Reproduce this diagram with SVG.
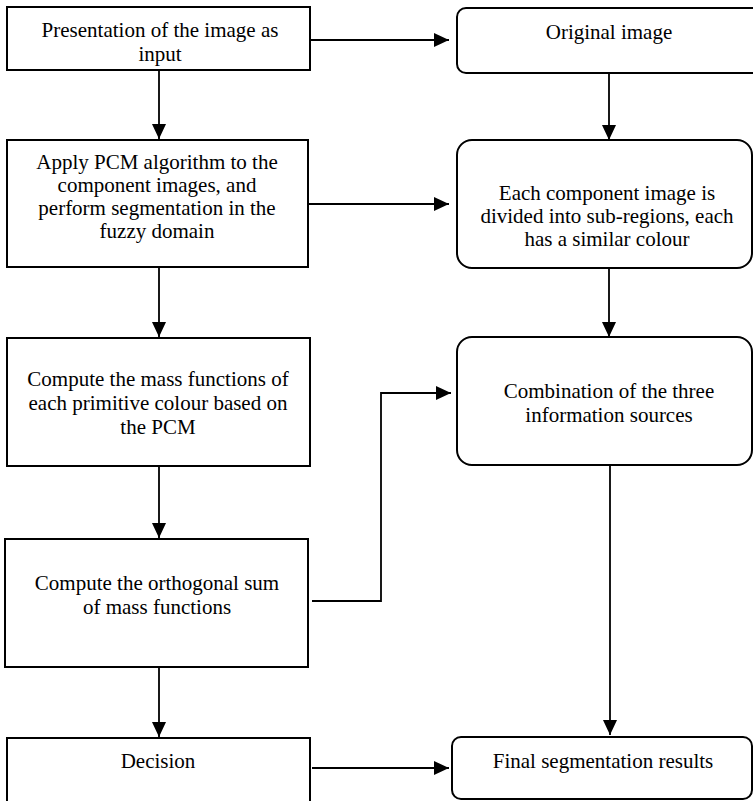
<svg xmlns="http://www.w3.org/2000/svg" width="753" height="801" viewBox="0 0 753 801">
<style>
.box{fill:#fff;stroke:#000;stroke-width:2}
.conn{fill:none;stroke:#000;stroke-width:1.8}
</style>
<defs>
<marker id="ah" markerUnits="userSpaceOnUse" markerWidth="16" markerHeight="14" refX="15" refY="7" orient="auto">
<path d="M0,0 L15,7 L0,14 z" fill="#000"/>
</marker>
</defs>
<rect width="753" height="801" fill="#fff"/>
<g id="connectors">
<path class="conn" d="M310,40 H449" marker-end="url(#ah)"/>
<path class="conn" d="M159,70 V139" marker-end="url(#ah)"/>
<path class="conn" d="M609,73 V140" marker-end="url(#ah)"/>
<path class="conn" d="M308,204 H449" marker-end="url(#ah)"/>
<path class="conn" d="M159,267 V337" marker-end="url(#ah)"/>
<path class="conn" d="M609,268 V337" marker-end="url(#ah)"/>
<path class="conn" d="M159,466 V538" marker-end="url(#ah)"/>
<path class="conn" d="M312,601 H381 V393 H451" marker-end="url(#ah)"/>
<path class="conn" d="M610,465 V735" marker-end="url(#ah)"/>
<path class="conn" d="M159,667 V737" marker-end="url(#ah)"/>
<path class="conn" d="M312,768 H449" marker-end="url(#ah)"/>
</g>
<g font-family="Liberation Serif" font-size="21" text-anchor="middle" fill="#000">
<g id="n1">
<rect class="box" x="7" y="7" width="303" height="63"/>
<text x="160" y="37">Presentation of the image as</text>
<text x="160" y="61">input</text>
</g>
<g id="n2">
<rect class="box" x="7" y="140" width="301" height="127"/>
<text x="157" y="169">Apply PCM algorithm to the</text>
<text x="157" y="192">component images, and</text>
<text x="157" y="215">perform segmentation in the</text>
<text x="157" y="238">fuzzy domain</text>
</g>
<g id="n3">
<rect class="box" x="7" y="338" width="303" height="128"/>
<text x="158" y="386">Compute the mass functions of</text>
<text x="158" y="410">each primitive colour based on</text>
<text x="158" y="434">the PCM</text>
</g>
<g id="n4">
<rect class="box" x="5" y="539" width="303" height="128"/>
<text x="157" y="590">Compute the orthogonal sum</text>
<text x="157" y="614">of mass functions</text>
</g>
<g id="n5">
<rect class="box" x="7" y="738" width="303" height="70"/>
<text x="158" y="768">Decision</text>
</g>
<g id="r1">
<rect class="box" x="457" y="8" width="310" height="65" rx="9"/>
<text x="609" y="39">Original image</text>
</g>
<g id="r2">
<rect class="box" x="457" y="140" width="295" height="128" rx="15"/>
<text x="607" y="200">Each component image is</text>
<text x="607" y="223">divided into sub-regions, each</text>
<text x="607" y="246">has a similar colour</text>
</g>
<g id="r3">
<rect class="box" x="457" y="337" width="295" height="128" rx="15"/>
<text x="609" y="398">Combination of the three</text>
<text x="609" y="422">information sources</text>
</g>
<g id="r5">
<rect class="box" x="452" y="737" width="300" height="62" rx="9"/>
<text x="603" y="768">Final segmentation results</text>
</g>
</g>
</svg>
